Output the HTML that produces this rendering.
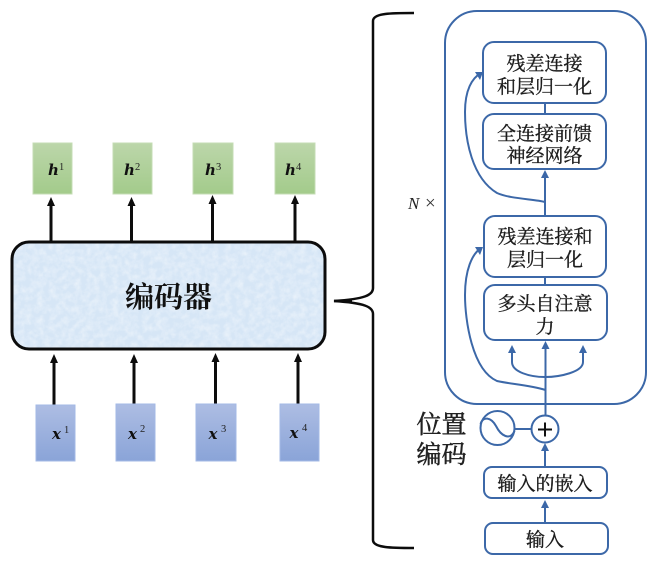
<!DOCTYPE html>
<html><head><meta charset="utf-8">
<style>
html,body{margin:0;padding:0;background:#fff}
svg{display:block;filter:blur(.35px)}
.c{font-family:"Liberation Serif","Noto Serif CJK SC",serif;fill:#1c1c1c;text-anchor:middle}
.t{font-size:19px;stroke:#1c1c1c;stroke-width:.35px}
.m{font-family:"DejaVu Serif",serif;font-weight:bold;font-style:italic;font-size:15px;fill:#111}
.s{font-family:"Liberation Serif",serif;font-size:10.500px;fill:#222}
.b{fill:#fff;stroke:#3c68a8;stroke-width:2}
.l{fill:none;stroke:#3c68a8;stroke-width:2}
.k{fill:none;stroke:#0c0c0c;stroke-width:3}
</style></head><body>
<svg width="648" height="561" viewBox="0 0 648 561" xmlns="http://www.w3.org/2000/svg">
<defs>
<linearGradient id="g" x1="0" y1="0" x2="0" y2="1"><stop offset="0" stop-color="#bcd6aa"/><stop offset="1" stop-color="#a3cb8b"/></linearGradient>
<linearGradient id="bl" x1="0" y1="0" x2="0" y2="1"><stop offset="0" stop-color="#adbde3"/><stop offset="1" stop-color="#8aa4d8"/></linearGradient>
<filter id="n" x="0" y="0" width="100%" height="100%"><feTurbulence type="fractalNoise" baseFrequency="0.16" numOctaves="3" seed="4"/><feColorMatrix values="0 0 0 0 1  0 0 0 0 1  0 0 0 0 1  1.6 0 0 0 -0.55"/><feComposite in2="SourceGraphic" operator="in"/></filter>
</defs>

<!-- h boxes -->
<g fill="url(#g)" stroke="#c4dcb4" stroke-width="1">
<rect x="33" y="143" width="39" height="51"/><rect x="113" y="143" width="39" height="51"/><rect x="193" y="143" width="40" height="51"/><rect x="275" y="143" width="40" height="51"/>
</g>
<text class="m" x="48" y="175">h</text><text class="s" x="59" y="170">1</text>
<text class="m" x="124" y="175">h</text><text class="s" x="135" y="170">2</text>
<text class="m" x="205" y="175">h</text><text class="s" x="216" y="170">3</text>
<text class="m" x="285" y="175">h</text><text class="s" x="296" y="170">4</text>

<!-- top arrows -->
<g stroke="#0c0c0c" stroke-width="3"><path d="M51 242V204M131.500 242V204M212.500 242V201M295 242V201"/></g>
<g fill="#0c0c0c"><path d="M51 197l-4 9h8zM131.500 197l-4 9h8zM212.500 195l-4 9h8zM295 195l-4 9h8z"/></g>

<!-- encoder -->
<rect x="12" y="242" width="313" height="107" rx="17" fill="#d6e6f6"/>
<rect x="12" y="242" width="313" height="107" rx="17" fill="#fff" filter="url(#n)" opacity=".5"/>
<rect x="12" y="242" width="313" height="107" rx="17" class="k"/>
<text class="c" x="168.500" y="307" style="font-size:29px;font-weight:bold;fill:#111">编码器</text>

<!-- bottom arrows -->
<g stroke="#0c0c0c" stroke-width="3"><path d="M54 405V360M134 404V360M215.500 404V359M298 404V359"/></g>
<g fill="#0c0c0c"><path d="M54 354l-4 9h8zM134 354l-4 9h8zM215.500 353l-4 9h8zM298 353l-4 9h8z"/></g>

<!-- x boxes -->
<g fill="url(#bl)" stroke="#a3b9e6" stroke-width="1">
<rect x="36" y="405" width="39" height="56"/><rect x="116" y="404" width="39" height="57"/><rect x="196" y="404" width="40" height="57"/><rect x="280" y="404" width="39" height="57"/>
</g>
<text class="m" x="52" y="439">x</text><text class="s" x="64" y="433">1</text>
<text class="m" x="128" y="439">x</text><text class="s" x="140" y="432">2</text>
<text class="m" x="208.500" y="439">x</text><text class="s" x="221" y="432">3</text>
<text class="m" x="289.500" y="438">x</text><text class="s" x="302" y="431">4</text>

<!-- brace -->
<path d="M414 13C392 13 373 13 373 21V288C373 295 365 299 334 301C365 303 373 307 373 314V540C373 548 392 548 414 548" fill="none" stroke="#0c0c0c" stroke-width="2.500"/>
<path d="M334 301H352" stroke="#0c0c0c" stroke-width="2.500"/>

<text x="408" y="209" style="font-family:'Liberation Serif',serif;font-style:italic;font-size:17px;fill:#222">N</text>
<text x="425" y="209" style="font-family:'Liberation Serif',serif;font-size:19px;fill:#333">×</text>

<!-- container -->
<rect x="445" y="11" width="201" height="393" rx="32" fill="none" stroke="#3c68a8" stroke-width="2"/>

<!-- connectors -->
<path class="l" d="M545.500 429V345M545 277V285M545 216V176M545 103V114M545 467V445M545 523V506"/>
<path class="l" d="M545.500 390C530 385 510 384 497 381C472 370 465 320 465 295C465 270 472 254 481 248"/>
<path class="l" d="M545 202C535 199 510 199 497 193C472 178 465 140 465 112C465 90 472 78 481 73"/>
<path class="l" d="M512 350V362C512 372 530 377 545 377C560 377 583 372 583 362V350"/>
<g fill="#3c68a8">
<path d="M483 72l-8 0 5 8zM483 247l-8 0 5 8z"/>
<path d="M545 170l-4 8h8zM545.500 341l-4 8h8zM512 345l-4 8h8zM583 345l-4 8h8zM545 443l-4 8h8zM545 500l-4 8h8z"/>
</g>

<!-- boxes -->
<rect class="b" x="483" y="42" width="123" height="61" rx="11"/>
<rect class="b" x="483" y="114" width="123" height="55" rx="11"/>
<rect class="b" x="484" y="216" width="122" height="61" rx="11"/>
<rect class="b" x="484" y="285" width="123" height="55" rx="11"/>
<rect class="b" x="484" y="467" width="123" height="31" rx="8"/>
<rect class="b" x="485" y="523" width="123" height="31" rx="8"/>

<text class="c t" x="544.500" y="70">残差连接</text>
<text class="c t" x="544.500" y="93">和层归一化</text>
<text class="c t" x="544.500" y="140">全连接前馈</text>
<text class="c t" x="544.500" y="162">神经网络</text>
<text class="c t" x="545" y="243">残差连接和</text>
<text class="c t" x="545" y="266">层归一化</text>
<text class="c t" x="545" y="310">多头自注意</text>
<text class="c t" x="545" y="333">力</text>
<text class="c t" x="545" y="490">输入的嵌入</text>
<text class="c t" x="545" y="546">输入</text>

<!-- position -->
<circle cx="497.500" cy="428" r="17" fill="#fff" stroke="#3c68a8" stroke-width="2"/>
<path class="l" d="M480.500 424C483 416 491 417 496 426C501 436 510 441 514.500 431"/>
<path class="l" d="M514 429H532"/>
<circle cx="545" cy="429" r="13.500" fill="#fff" stroke="#3c68a8" stroke-width="2"/>
<path d="M538 429.500H552M545 422.500V436.500" stroke="#111" stroke-width="2"/>
<text class="c" x="441.500" y="433" style="font-size:25px;stroke:#222;stroke-width:.5px;fill:#222">位置</text>
<text class="c" x="441.500" y="463" style="font-size:25px;stroke:#222;stroke-width:.5px;fill:#222">编码</text>
</svg>
</body></html>
